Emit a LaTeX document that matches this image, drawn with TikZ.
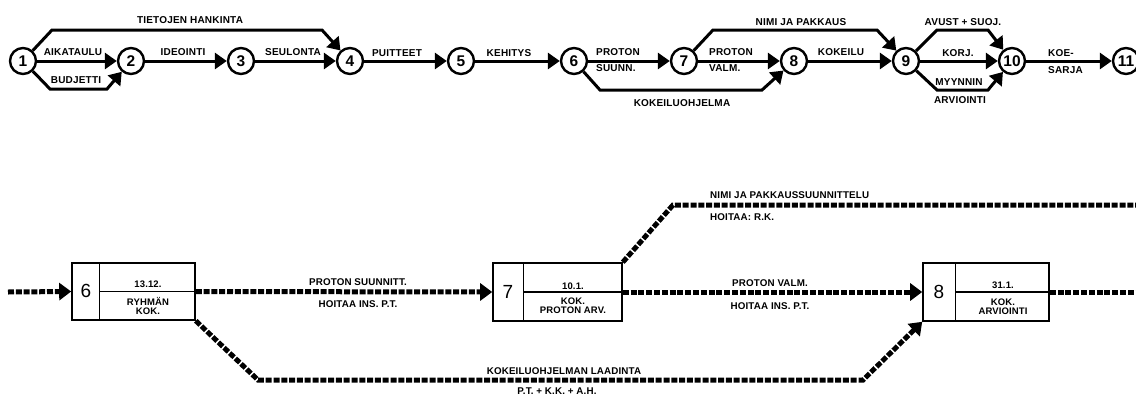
\documentclass[tikz,border=0pt]{standalone}
\usepackage{fontspec}
\setmainfont{Liberation Sans}
\newfontfamily\labfont[LetterSpace=2]{Liberation Sans}
\newfontfamily\labfontb[LetterSpace=1.5]{Liberation Sans}
\usetikzlibrary{arrows.meta,calc}
\begin{document}
\begin{tikzpicture}[x=1pt,y=-1pt,
  ev/.style={circle,draw,line width=2.4pt,minimum size=26pt,inner sep=0pt,font=\bfseries\fontsize{15.5}{16}\selectfont},
  actline/.style={line width=3pt},
  act/.style={actline,-{Triangle[length=12pt,width=16pt]}},
  tl/.style={font=\labfont\bfseries\fontsize{10}{11}\selectfont,inner sep=0pt},
  bl/.style={font=\labfontb\bfseries\fontsize{9.8}{11}\selectfont,inner sep=0pt},
  xl/.style={font=\labfontb\bfseries\fontsize{9.5}{10}\selectfont,inner sep=0pt,align=center},
  bignum/.style={font=\fontsize{19}{19}\selectfont,inner sep=0pt},
  dl/.style={line width=5pt,dash pattern=on 6pt off 1.8pt},
  dla/.style={dl,-{Triangle[length=12pt,width=17pt]}},
  mbox/.style={draw,line width=1.6pt,inner sep=0pt},
  divl/.style={line width=1.2pt}
]
\useasboundingbox (0,0) rectangle (1136,397);
\fill[white] (0,0) rectangle (1136,397);

% ---------- top network ----------
\node[ev] (n1) at (23,61) {1};
\node[ev] (n2) at (131,61) {2};
\node[ev] (n3) at (241,61) {3};
\node[ev] (n4) at (350,61) {4};
\node[ev] (n5) at (461,61) {5};
\node[ev] (n6) at (574,61) {6};
\node[ev] (n7) at (684,61) {7};
\node[ev] (n8) at (794,61) {8};
\node[ev] (n9) at (906,61) {9};
\node[ev] (n10) at (1012,61) {10};
\node[ev] (n11) at (1126,61) {11};

\draw[act] (n1) -- (n2);
\draw[act] (n1) -- (50,89) -- (107,89) -- (n2);
\draw[act] (n1) -- (52,30) -- (322,30) -- (n4);
\draw[act] (n2) -- (n3);
\draw[act] (n3) -- (n4);
\draw[act] (n4) -- (n5);
\draw[act] (n5) -- (n6);
\draw[act] (n6) -- (n7);
\draw[act] (n6) -- (600,90) -- (762,90) -- (n8);
\draw[act] (n7) -- (n8);
\draw[act] (n7) -- (713,30) -- (877,30) -- (n9);
\draw[act] (n8) -- (n9);
\draw[act] (n9) -- (937,30) -- (988,30) -- (n10);
\draw[act] (n9) -- (n10);
\draw[act] (n9) -- (937,90) -- (988,90) -- (n10);
\draw[act] (n10) -- (n11);

\node[tl] (t1) at (190,20) {TIETOJEN HANKINTA};
\node[tl] (t2) at (73,52) {AIKATAULU};
\node[tl] (t3) at (76,80) {BUDJETTI};
\node[tl] (t4) at (183,52) {IDEOINTI};
\node[tl] (t5) at (293,52) {SEULONTA};
\node[tl] (t6) at (397,53) {PUITTEET};
\node[tl] (t7) at (509,53) {KEHITYS};
\node[tl,anchor=west] (t8) at (596,52) {PROTON};
\node[tl,anchor=west] (t9) at (596,68) {SUUNN.};
\node[tl] (t10) at (682,103) {KOKEILUOHJELMA};
\node[tl,anchor=west] (t11) at (709,52) {PROTON};
\node[tl,anchor=west] (t12) at (709,68) {VALM.};
\node[tl] (t13) at (801,22) {NIMI JA PAKKAUS};
\node[tl] (t14) at (841,52) {KOKEILU};
\node[tl] (t15) at (963,22) {AVUST + SUOJ.};
\node[tl] (t16) at (958,53) {KORJ.};
\node[tl] (t17) at (959,82) {MYYNNIN};
\node[tl] (t18) at (960,100) {ARVIOINTI};
\node[tl,anchor=west] (t19) at (1048,53) {KOE-};
\node[tl,anchor=west] (t20) at (1048,70) {SARJA};

% ---------- bottom schedule ----------
\node[mbox,minimum width=123pt,minimum height=57pt] (b6) at (133.5,291.5) {};
\node[mbox,minimum width=129pt,minimum height=58pt] (b7) at (557.5,292) {};
\node[mbox,minimum width=126pt,minimum height=58pt] (b8) at (986,292) {};

\draw[divl] ($(b6.north west)+(28,0)$) -- ($(b6.south west)+(28,0)$);
\draw[divl] ($(b6.west)+(28,0)$) -- (b6.east);
\draw[divl] ($(b7.north west)+(31,0)$) -- ($(b7.south west)+(31,0)$);
\draw[divl] ($(b7.west)+(31,0)$) -- (b7.east);
\draw[divl] ($(b8.north west)+(33,0)$) -- ($(b8.south west)+(33,0)$);
\draw[divl] ($(b8.west)+(33,0)$) -- (b8.east);

\node[bignum] (k6) at (86,291) {6};
\node[xl] (d6) at (148,284) {13.12.};
\node[xl] (e6) at (148,305.5) {RYHMÄN\\[-1pt]KOK.};
\node[bignum] (k7) at (508,292) {7};
\node[xl] (d7) at (573,286) {10.1.};
\node[xl] (e7) at (573,305.5) {KOK.\\[-1pt]PROTON ARV.};
\node[bignum] (k8) at (939,292) {8};
\node[xl] (d8) at (1003,285) {31.1.};
\node[xl] (e8) at (1003,307) {KOK.\\[-1pt]ARVIOINTI};

\coordinate (in6) at (8,292);
\coordinate (out8) at (1136,292);
\coordinate (out7) at (1136,205);

\draw[dla] (in6) -- (b6.west);
\draw[dla] (b6.east) -- (b7.west);
\draw[dla] (b7.east) -- (b8.west);
\draw[dl] (b8.east) -- (out8);
\draw[dl] (b7.north east) -- (673,205) -- (out7);
\draw[dla] (b6.south east) -- (258,380) -- (863,380) -- (b8.south west);

\node[bl] (s1) at (358,282) {PROTON SUUNNITT.};
\node[bl] (s2) at (358,304) {HOITAA INS. P.T.};
\node[bl] (s3) at (770,283) {PROTON VALM.};
\node[bl] (s4) at (770,306) {HOITAA INS. P.T.};
\node[bl,anchor=west] (s5) at (710,195) {NIMI JA PAKKAUSSUUNNITTELU};
\node[bl,anchor=west] (s6) at (710,217) {HOITAA: R.K.};
\node[bl] (s7) at (564,371) {KOKEILUOHJELMAN LAADINTA};
\node[bl] (s8) at (557,391) {P.T. + K.K. + A.H.};
\end{tikzpicture}
\end{document}
